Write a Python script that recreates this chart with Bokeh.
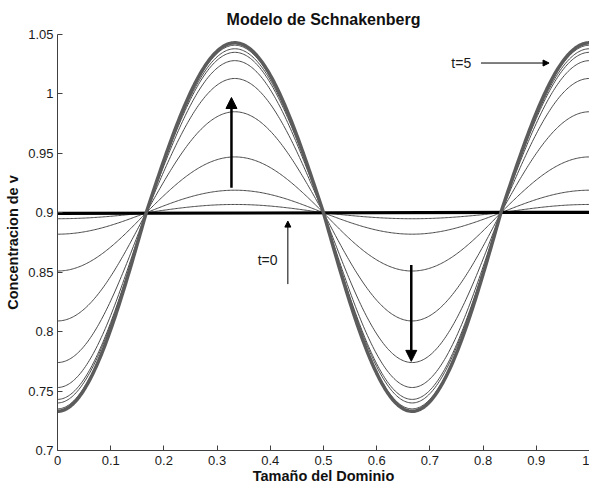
import numpy as np
from bokeh.plotting import figure
from bokeh.models import FixedTicker, CustomJSTickFormatter, Arrow, NormalHead, Label
from bokeh.embed import file_html
from bokeh.resources import INLINE

# ---- data ----
title = "Modelo de Schnakenberg"
x_label = "Tamaño del Dominio"
y_label = "Concentracion de v"
x_ticks = [0, 0.1, 0.2, 0.3, 0.4, 0.5, 0.6, 0.7, 0.8, 0.9, 1.0]
y_ticks = [0.7, 0.75, 0.8, 0.85, 0.9, 0.95, 1.0, 1.05]

base_level = 0.9
# extreme values of each time curve (troughs at x=0, 2/3 ; peaks at x=1/3, 1)
trough_vals = [0.895, 0.882, 0.851, 0.809, 0.774, 0.753, 0.743, 0.740, 0.735]
peak_vals = [0.907, 0.919, 0.947, 0.985, 1.013, 1.028, 1.035, 1.038, 1.041]
final_trough = 0.733   # t = 5
final_peak = 1.043
# initial (t = 0) nearly flat state
init_x = [0.0, 1.0]
init_y = [0.8995, 0.9004]

# arrows and annotations
arrow_up = (0.327, 0.921, 0.997)
arrow_down = (0.665, 0.856, 0.775)
t0_arrow = (0.433, 0.840, 0.893)
t5_arrow = (0.796, 0.924, 1.026)
t0_label = (0.395, 0.860, "t=0")
t5_label = (0.759, 1.026, "t=5")

FONT = "Liberation Sans"

xs = np.linspace(0, 1, 401)
shape = -np.cos(3 * np.pi * xs)  # spatial mode of the pattern


def profile(trough, peak):
    amp_hi = peak - base_level
    amp_lo = base_level - trough
    return base_level + np.where(shape > 0, shape * amp_hi, shape * amp_lo)


p = figure(width=589, height=486, x_range=(0, 1), y_range=(0.7, 1.05),
           output_backend="svg", toolbar_location=None,
           min_border_left=57, min_border_right=0, min_border_top=34,
           min_border_bottom=34)
p.outline_line_color = None
p.grid.visible = False
p.background_fill_color = "white"
p.border_fill_color = "white"

for tr, pk in zip(trough_vals, peak_vals):
    p.line(xs, profile(tr, pk), line_color="#4a4a4a", line_width=1)

p.line(init_x, init_y, line_color="black", line_width=3.2)
p.line(xs, profile(final_trough, final_peak), line_color="#5c5c5c", line_width=3.5)

# axes
p.xaxis.ticker = FixedTicker(ticks=x_ticks)
p.yaxis.ticker = FixedTicker(ticks=y_ticks)
fmt = "return Number(tick.toFixed(2)).toString();"
p.xaxis.formatter = CustomJSTickFormatter(code=fmt)
p.yaxis.formatter = CustomJSTickFormatter(code=fmt)
for ax in (p.xaxis[0], p.yaxis[0]):
    ax.major_tick_in = 5
    ax.major_tick_out = 0
    ax.minor_tick_line_color = None
    ax.axis_line_color = "#404040"
    ax.major_tick_line_color = "#404040"
    ax.major_label_text_font = FONT
    ax.major_label_text_font_size = "13px"
    ax.major_label_text_color = "#1a1a1a"
    ax.axis_label_text_font = FONT
    ax.axis_label_text_font_style = "bold"
    ax.axis_label_text_font_size = "14.5px"
    ax.axis_label_text_color = "#111111"
p.xaxis.axis_label = x_label
p.yaxis.axis_label = y_label
p.xaxis.major_label_standoff = 5
p.yaxis.major_label_standoff = 4
p.xaxis.axis_label_standoff = 0
p.yaxis.axis_label_standoff = 4

p.title.text = title
p.title.align = "center"
p.title.text_font = FONT
p.title.text_font_size = "16px"
p.title.text_font_style = "bold"
p.title.text_color = "#111111"
p.title.standoff = 13

# arrows
ax_, y0, y1 = arrow_up
p.add_layout(Arrow(x_start=ax_, y_start=y0, x_end=ax_, y_end=y1, line_width=2.5,
                   end=NormalHead(size=11, fill_color="black", line_color="black")))
ax_, y0, y1 = arrow_down
p.add_layout(Arrow(x_start=ax_, y_start=y0, x_end=ax_, y_end=y1, line_width=2.5,
                   end=NormalHead(size=11, fill_color="black", line_color="black")))
ax_, y0, y1 = t0_arrow
p.add_layout(Arrow(x_start=ax_, y_start=y0, x_end=ax_, y_end=y1, line_width=1,
                   end=NormalHead(size=6, fill_color="black", line_color="black")))
x0, x1, yy = t5_arrow
p.add_layout(Arrow(x_start=x0, y_start=yy, x_end=x1, y_end=yy, line_width=1,
                   end=NormalHead(size=6, fill_color="black", line_color="black")))

for lx, ly, txt in (t0_label, t5_label):
    p.add_layout(Label(x=lx, y=ly, text=txt, text_font=FONT, text_font_size="14px",
                       text_align="center", text_baseline="middle", text_color="#1a1a1a"))

open("out.html", "w").write(file_html(p, INLINE))
